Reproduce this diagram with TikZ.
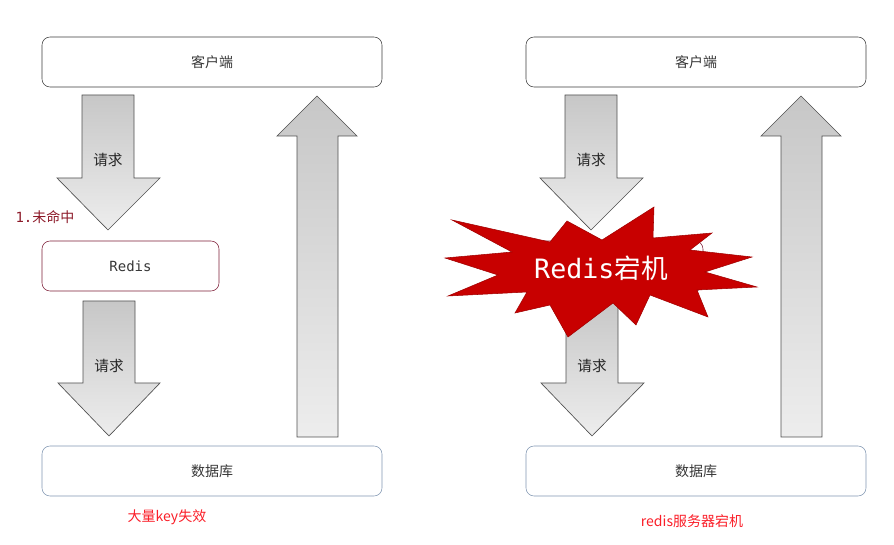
\documentclass[tikz,border=0pt]{standalone}
\usepackage{fontspec}
\setmainfont{Noto Sans CJK SC}
\newfontfamily\redismono{DejaVu Sans Mono}
\usetikzlibrary{positioning}
\definecolor{boxgray}{RGB}{60,60,60}
\definecolor{txtgray}{RGB}{55,55,55}
\definecolor{redisred}{RGB}{125,30,55}
\definecolor{dbblue}{RGB}{128,150,178}
\definecolor{missred}{RGB}{140,25,40}
\definecolor{notered}{RGB}{250,30,40}
\definecolor{burstred}{RGB}{200,0,0}
\definecolor{arrowline}{RGB}{80,80,80}
\tikzset{
	box/.style={
		rectangle,
		rounded corners=6pt,
		draw=boxgray,
		fill=white,
		minimum width=255pt,
		minimum height=37.5pt,
		text=txtgray,
		font=\fontsize{10.5}{12}\selectfont},
	rbox/.style={
		box,
		draw=redisred,
		minimum width=132.75pt,
		font=\redismono\fontsize{10.5}{12}\selectfont},
	dbbox/.style={
		box,
		draw=dbblue},
	blk/.style={
		draw=arrowline,
		line width=0.5pt,
		top color=black!22,
		bottom color=black!7},
	lbl/.style={
		text=black!85,
		font=\fontsize{11}{12}\selectfont},
	note/.style={
		text=notered,
		font=\fontsize{10.5}{12}\selectfont}
}
\begin{document}
\begin{tikzpicture}[x=0.75pt,y=0.75pt,yscale=-1,xscale=1]
\useasboundingbox (0,0) rectangle (894,545);

% left side
\node [box] (client1) at (212,62) {客户端};
\node [rbox] (redis1) at (130.5,266) {Redis};
\node [dbbox] (db1) at (212,471) {数据库};

\draw [blk] (82,95) -- (134,95) -- (134,178) -- (160,178) -- (108,230) -- (57,178) -- (82,178) -- cycle;
\draw [blk] (83,301) -- (135,301) -- (135,383) -- (160,383) -- (109,436) -- (58,383) -- (83,383) -- cycle;
\draw [blk] (297,437) -- (338,437) -- (338,136) -- (357,136) -- (317,96) -- (277,136) -- (297,136) -- cycle;

\node [lbl] (req1) at (108,160) {请求};
\node [lbl] (req2) at (109,366) {请求};
\node [text=missred, font=\fontsize{10.5}{12}\selectfont] (miss) at (45,217) {{\redismono 1.}未命中};
\node [note] (keys) at (167,517) {大量key失效};

% right side
\node [box] (client2) at (696,62) {客户端};
\node [rbox] (redis2) at (614.5,266) {};
\node [dbbox] (db2) at (696,471) {数据库};

\draw [blk] (565,95) -- (617,95) -- (617,178) -- (643,178) -- (591,230) -- (540,178) -- (565,178) -- cycle;
\draw [blk] (566,301) -- (618,301) -- (618,383) -- (644,383) -- (592,436) -- (541,383) -- (566,383) -- cycle;
\draw [blk] (781,437) -- (822,437) -- (822,136) -- (841,136) -- (801,96) -- (761,136) -- (781,136) -- cycle;

\node [lbl] (req3) at (591,160) {请求};
\node [lbl] (req4) at (592,366) {请求};

% starburst
\draw [fill=burstred, draw=burstred!80!black, line width=0.4pt]
	(452,220) -- (550,242) -- (567,221) -- (602,240) -- (654,207) -- (653,238)
	-- (712,233) -- (690,250) -- (752,257) -- (705,272) -- (757,287) -- (697,290)
	-- (708,317) -- (650,295) -- (636,325) -- (613,303) -- (568,337) -- (550,305)
	-- (515,313) -- (527,292) -- (448,296) -- (498,275) -- (445,258) -- (512,252) -- cycle;
\node [text=white, font=\fontsize{20}{24}\selectfont] (down) at (601,268) {{\redismono Redis}宕机};
\node [note] (crash) at (692,521) {redis服务器宕机};
\end{tikzpicture}
\end{document}
